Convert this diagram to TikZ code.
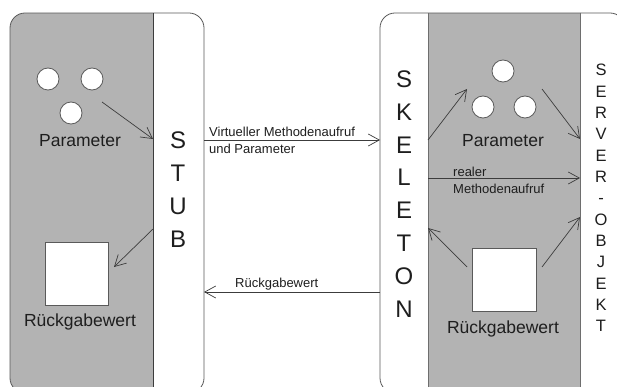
\documentclass[tikz,border=0pt]{standalone}
\usepackage{fontspec}
\setmainfont{Liberation Sans}
\usetikzlibrary{arrows.meta}
\definecolor{boxgray}{HTML}{B3B3B3}
\definecolor{edgegray}{HTML}{5A5A5A}
\definecolor{divgray}{HTML}{6E6E6E}
\definecolor{linegray}{HTML}{3C3C3C}
\definecolor{txt}{HTML}{1E1E1E}
\tikzset{
  arr/.style={draw=linegray, line width=0.7pt, -{Straight Barb[length=11pt,width=12pt]}},
  ball/.style={circle, draw=edgegray, fill=white, minimum size=22pt, inner sep=0pt, line width=0.8pt},
  sqbox/.style={rectangle, draw=edgegray, fill=white, minimum width=63pt, minimum height=63pt, inner sep=0pt, line width=0.8pt},
  bigletters/.style={font=\fontsize{24}{32.8}\selectfont, align=center, text=txt, inner sep=0pt},
  vertletters/.style={font=\fontsize{16.5}{21.33}\selectfont, align=center, text=txt, inner sep=0pt},
  lbl/.style={font=\fontsize{17.5}{21}\selectfont, text=txt, inner sep=0pt},
  smalllbl/.style={font=\fontsize{13}{16.5}\selectfont, text=txt, inner sep=0pt, align=left},
  boxedge/.style={draw=edgegray, line width=0.8pt, rounded corners=15pt},
  divline/.style={draw=divgray, line width=1pt}
}
\begin{document}
\begin{tikzpicture}[x=1pt,y=-1pt]
\useasboundingbox (0,0) rectangle (617,387);
\fill[white] (0,0) rectangle (617,387);
\clip (0,0) rectangle (617,387);

% left box (client + stub)
\fill[white, rounded corners=15pt] (10,13) rectangle (204,393);
\begin{scope}
  \clip[rounded corners=15pt] (10,13) rectangle (204,393);
  \fill[boxgray] (10,13) rectangle (153,393);
\end{scope}
\draw[boxedge] (10,13) rectangle (204,393);
\draw[divline, draw=linegray] (153,13) -- (153,393);

% right box (skeleton + server)
\fill[white, rounded corners=15pt] (380,13) rectangle (625,393);
\begin{scope}
  \clip[rounded corners=15pt] (380,13) rectangle (625,393);
  \fill[boxgray] (428,13) rectangle (580,393);
\end{scope}
\draw[boxedge] (380,13) rectangle (625,393);
\draw[divline] (428,13) -- (428,393);
\draw[divline] (580,13) -- (580,393);

% left content
\node[ball] (lc1) at (48,79) {};
\node[ball] (lc2) at (92,79) {};
\node[ball] (lc3) at (71,113) {};
\node[lbl, anchor=base] (lpar) at (80,147) {Parameter};
\node[sqbox] (lsq) at (76.5,273.5) {};
\node[lbl, anchor=base] (lret) at (80,326) {Rückgabewert};

\node[bigletters] (stub) at (178,189.5) {S\\T\\U\\B};

% right content
\node[ball] (rc1) at (503,71) {};
\node[ball] (rc2) at (483,107) {};
\node[ball] (rc3) at (525,107) {};
\node[lbl, anchor=base] (rpar) at (503,147) {Parameter};
\node[sqbox, minimum width=64pt] (rsq) at (504,279.5) {};
\node[lbl, anchor=base] (rret) at (503,333) {Rückgabewert};

\node[bigletters] (skel) at (404,194) {S\\K\\E\\L\\E\\T\\O\\N};
\node[vertletters] (server) at (601,198) {S\\E\\R\\V\\E\\R\\{-}\\O\\B\\J\\E\\K\\T};

% middle labels
\node[smalllbl, anchor=north west] (callLbl) at (209,127) {Virtueller Methodenaufruf\\und Parameter};
\node[smalllbl, anchor=base west] (retLbl) at (235,287.5) {Rückgabewert};
\node[smalllbl, anchor=north west] (realLbl) at (453,167) {realer\\Methodenaufruf};

% connector end points
\coordinate (a1s) at (102,102);
\coordinate (a1e) at (153,139);
\coordinate (a2s) at (153,229);
\coordinate (a2e) at (114,267);
\coordinate (a3s) at (204,140);
\coordinate (a3e) at (380,140);
\coordinate (a4s) at (380,292);
\coordinate (a4e) at (204,292);
\coordinate (a5s) at (428,140);
\coordinate (a5e) at (467,89);
\coordinate (a6s) at (542,89);
\coordinate (a6e) at (580,139);
\coordinate (a7s) at (428,178);
\coordinate (a7e) at (580,178);
\coordinate (a8s) at (467,267);
\coordinate (a8e) at (428,228);
\coordinate (a9s) at (542,267);
\coordinate (a9e) at (580,217);

\draw[arr] (a1s) -- (a1e);
\draw[arr] (a2s) -- (a2e);
\draw[arr] (a3s) -- (a3e);
\draw[arr] (a4s) -- (a4e);
\draw[arr] (a5s) -- (a5e);
\draw[arr] (a6s) -- (a6e);
\draw[arr] (a7s) -- (a7e);
\draw[arr] (a8s) -- (a8e);
\draw[arr] (a9s) -- (a9e);
\end{tikzpicture}
\end{document}
